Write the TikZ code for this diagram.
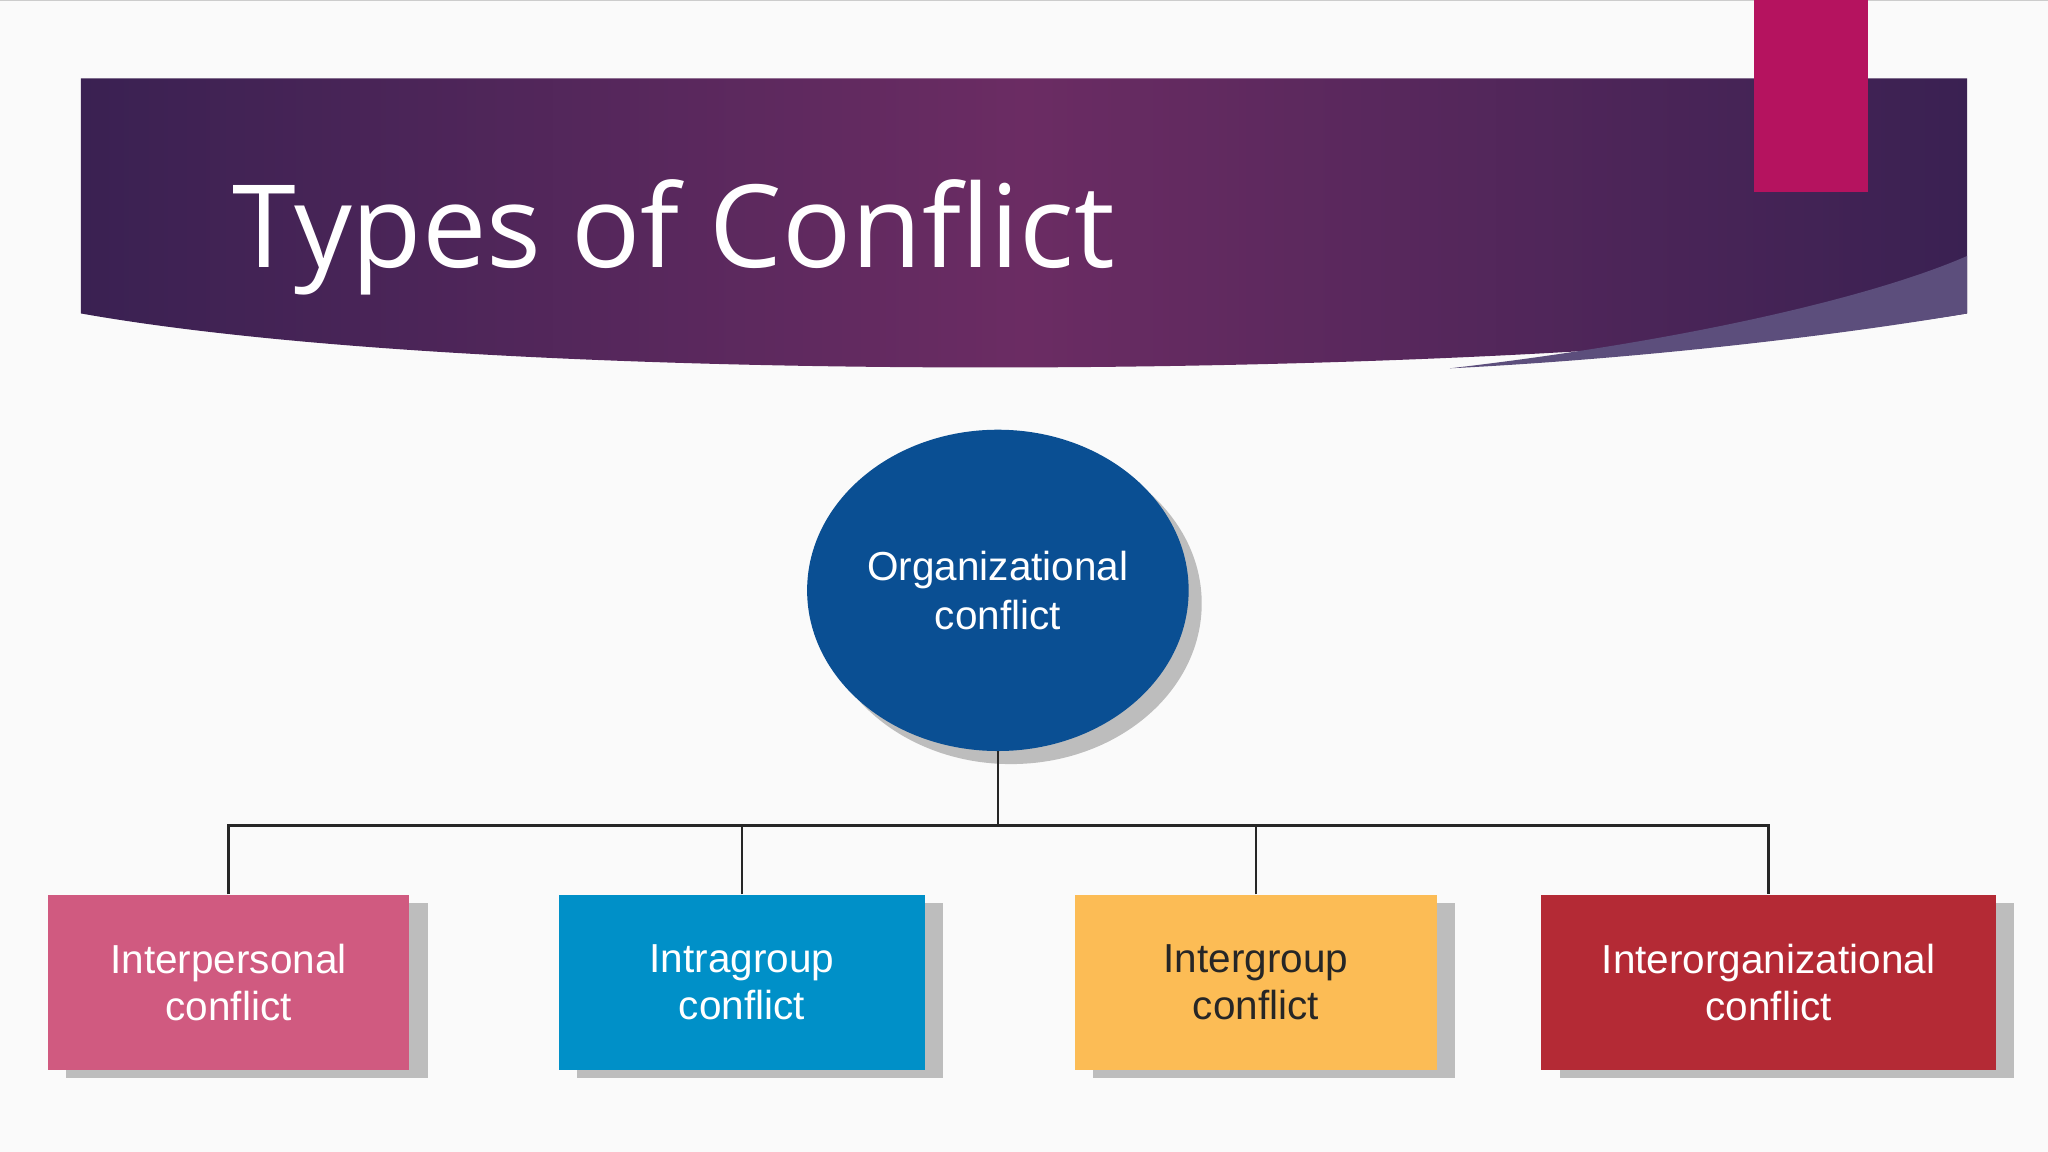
\documentclass[tikz,border=0pt]{standalone}
\usepackage{fontspec}
\setmainfont{Liberation Sans}
\newfontfamily\titlefont{Open Sans}
\usetikzlibrary{shadows,shapes.geometric}
\definecolor{bgc}{HTML}{FAFAFA}
\definecolor{ban}{HTML}{3A2152}
\definecolor{banmid}{HTML}{6B2C63}
\definecolor{sliver}{HTML}{5C4E7C}
\definecolor{mag}{HTML}{B5135F}
\definecolor{orgc}{HTML}{0A4F93}
\definecolor{pinkc}{HTML}{D05A80}
\definecolor{bluec}{HTML}{0090C8}
\definecolor{yelc}{HTML}{FCBC55}
\definecolor{redc}{HTML}{B42A35}
\tikzset{
  kind/.style={rectangle,minimum height=134pt,align=center,font=\fontsize{31}{36}\selectfont,text=white,
    drop shadow={shadow xshift=14pt,shadow yshift=-6pt,opacity=0.35,fill=black!70}},
  link/.style={draw=black!85,line width=1.8pt}
}
\begin{document}
\begin{tikzpicture}[x=1pt,y=-1pt]
\useasboundingbox (0,0) rectangle (1568,882);
\fill[bgc] (0,0) rectangle (1568,882);
\draw[black!20,line width=1pt] (0,0.5) -- (1568,0.5);
% banner
\shade[left color=ban,right color=ban,middle color=banmid]
  (62,60) -- (1506,60) -- (1506,240) .. controls (1200,290) and (400,300) .. (62,240) -- cycle;
\fill[sliver] (1506,196) -- (1506,240) .. controls (1400,258) and (1250,275) .. (1110,282) .. controls (1300,260) and (1440,225) .. (1506,196) -- cycle;
\fill[mag] (1343,0) rectangle (1430,147);
\node[anchor=base west,text=white,font=\titlefont\fontsize{88}{100}\selectfont,inner sep=0] (title) at (178,205) {Types of Conflict};
% circle
\node[ellipse,fill=orgc,minimum width=274pt,minimum height=246pt,text=white,align=center,
  font=\fontsize{31}{38}\selectfont,
  drop shadow={shadow xshift=10pt,shadow yshift=-10pt,opacity=0.35,fill=black!70}] (org) at (764,452) {Organizational\\conflict};
% boxes
\node[kind,fill=pinkc,minimum width=277pt] (b1) at (175,752) {Interpersonal\\conflict};
\node[kind,fill=bluec,minimum width=280pt] (b2) at (568,752) {Intragroup\\conflict};
\node[kind,fill=yelc,minimum width=277pt,text=black!85] (b3) at (961.5,752) {Intergroup\\conflict};
\node[kind,fill=redc,minimum width=348pt] (b4) at (1354,752) {Interorganizational\\conflict};
\coordinate (j) at (764,632);
\draw[link] (org.south) -- (j);
\draw[link] (b1.north) |- (b4.north |- j) -- (b4.north);
\draw[link] (b2.north) -- (b2.north |- j);
\draw[link] (b3.north) -- (b3.north |- j);
\end{tikzpicture}
\end{document}
